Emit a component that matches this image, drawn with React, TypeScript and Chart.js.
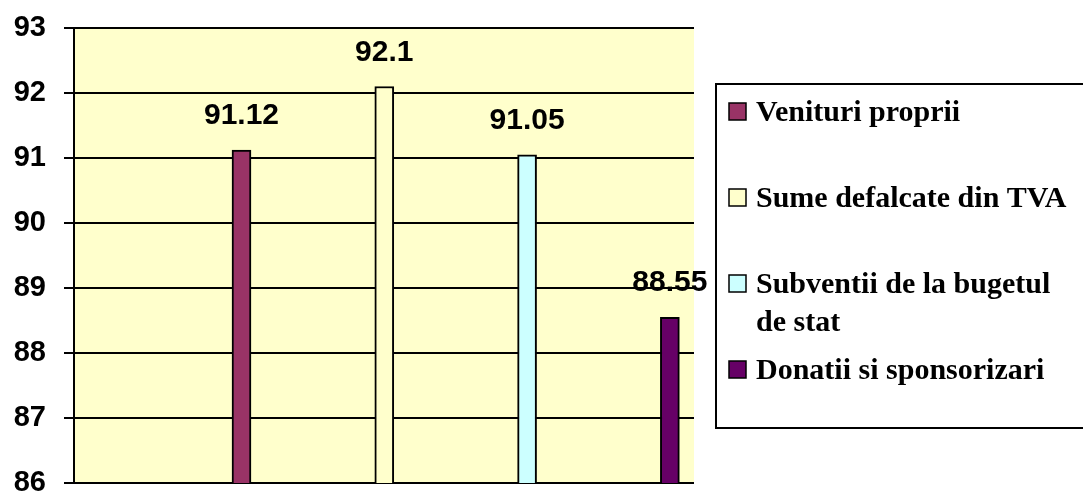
import React, { useEffect, useRef } from "react";
import { Chart, registerables } from "chart.js";

Chart.register(...registerables);

const categories = [
  "Venituri proprii",
  "Sume defalcate din TVA",
  "Subventii de la bugetul de stat",
  "Donatii si sponsorizari",
];
const values = [91.12, 92.1, 91.05, 88.55];
const colors = ["#993366", "#FFFFCC", "#CCFFFF", "#660066"];
const yMin = 86;
const yMax = 93;

const W = 1083;
const H = 492;

const bgPlugin = {
  id: "plotBg",
  beforeDraw(chart: any) {
    const { ctx, chartArea } = chart;
    ctx.save();
    ctx.fillStyle = "#FFFFCC";
    ctx.fillRect(chartArea.left, chartArea.top, chartArea.right - chartArea.left, chartArea.bottom - chartArea.top);
    ctx.restore();
  },
};

const valueLabels = {
  id: "valueLabels",
  afterDatasetsDraw(chart: any) {
    const { ctx } = chart;
    ctx.save();
    ctx.fillStyle = "#000";
    ctx.font = "bold 30px 'Liberation Sans', Arial, sans-serif";
    ctx.textAlign = "center";
    ctx.textBaseline = "alphabetic";
    chart.data.datasets.forEach((ds: any, i: number) => {
      const meta = chart.getDatasetMeta(i);
      meta.data.forEach((el: any, j: number) => {
        const v = ds.data[j].y;
        ctx.fillText(String(v), el.x, el.y - 26);
      });
    });
    ctx.restore();
  },
};

function wrapText(ctx: CanvasRenderingContext2D, text: string, maxW: number): string[] {
  const words = text.split(" ");
  const lines: string[] = [];
  let cur = "";
  for (const w of words) {
    const test = cur ? cur + " " + w : w;
    if (ctx.measureText(test).width > maxW && cur) {
      lines.push(cur);
      cur = w;
    } else {
      cur = test;
    }
  }
  if (cur) lines.push(cur);
  return lines;
}

const legendPlugin = {
  id: "boxLegend",
  afterDraw(chart: any) {
    const { ctx } = chart;
    const boxL = 716, boxT = 84, boxB = 428;
    ctx.save();
    ctx.fillStyle = "#FFFFFF";
    ctx.fillRect(boxL, boxT, 420, boxB - boxT);
    ctx.strokeStyle = "#000";
    ctx.lineWidth = 2;
    ctx.strokeRect(boxL, boxT, 420, boxB - boxT);
    ctx.font = "bold 30px 'Liberation Serif', 'Times New Roman', serif";
    ctx.textBaseline = "middle";
    ctx.textAlign = "left";
    chart.data.datasets.forEach((ds: any, i: number) => {
      const cy = boxT + 27 + i * 86;
      ctx.fillStyle = ds.backgroundColor;
      ctx.fillRect(729, cy - 8, 17, 17);
      ctx.strokeStyle = "#000";
      ctx.lineWidth = 1.5;
      ctx.strokeRect(729, cy - 8, 17, 17);
      ctx.fillStyle = "#000";
      const lines = wrapText(ctx, ds.label, 320);
      lines.forEach((ln, k) => {
        ctx.fillText(ln, 756, cy + 2 + k * 38);
      });
    });
    ctx.restore();
  },
};

export default function App() {
  const ref = useRef<HTMLCanvasElement>(null);
  useEffect(() => {
    document.body.style.margin = "0";
    const canvas = ref.current!;
    const chart = new Chart(canvas, {
      type: "bar",
      data: {
        datasets: categories.map((c, i) => ({
          label: c,
          data: [{ x: i + 1, y: values[i] }],
          backgroundColor: colors[i],
          borderColor: "#000",
          borderWidth: 2,
          borderSkipped: false,
          barThickness: 19,
          grouped: false,
        })) as any,
      },
      options: {
        animation: false,
        responsive: false,
        devicePixelRatio: 1,
        layout: { padding: { top: 28, bottom: 9, right: W - 694, left: 0 } },
        plugins: {
          legend: { display: false },
          tooltip: { enabled: false },
        },
        scales: {
          x: {
            type: "linear",
            min: -0.173,
            max: 4.169,
            offset: false,
            display: false,
          },
          y: {
            min: yMin,
            max: yMax,
            afterFit(scale: any) {
              scale.width = 74;
              scale.paddingTop = 0;
              scale.paddingBottom = 0;
            },
            ticks: {
              stepSize: 1,
              color: "#000",
              padding: 18,
              font: { family: "'Liberation Sans', Arial, sans-serif", size: 29, weight: "bold" },
            },
            grid: {
              color: "#000",
              lineWidth: 2,
              tickLength: 10,
              drawTicks: true,
            },
            border: { color: "#000", width: 2 },
          },
        },
      } as any,
      plugins: [bgPlugin, valueLabels, legendPlugin],
    });
    return () => chart.destroy();
  }, []);
  return (
    <div style={{ width: W, height: H, background: "#fff" }}>
      <canvas ref={ref} width={W} height={H} style={{ display: "block" }} />
    </div>
  );
}
